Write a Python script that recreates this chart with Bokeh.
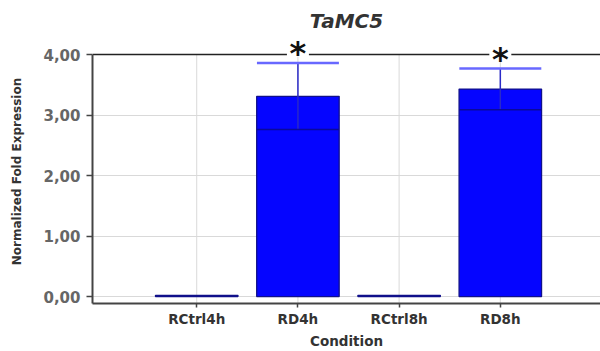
from bokeh.plotting import figure
from bokeh.models import Range1d, FixedTicker, Span, ColumnDataSource
from bokeh.core.properties import value
from bokeh.embed import file_html
from bokeh.resources import INLINE

# Normalized fold expression per condition (mean and error)
conditions = ["RCtrl4h", "RD4h", "RCtrl8h", "RD8h"]
expression = [0.02, 3.31, 0.02, 3.43]
error = [0.0, 0.55, 0.0, 0.34]
significant = [False, True, False, True]

y_ticks = [0, 1, 2, 3, 4]
y_tick_labels = ["0,00", "1,00", "2,00", "3,00", "4,00"]
y_min, y_max = -0.115, 4.0

FONT = "DejaVu Sans"
GRID = "#d9d9d9"
xs = list(range(1, len(conditions) + 1))

# frame reaches a little above the axis maximum so the stars are not clipped
p = figure(width=600, height=351, output_backend="svg", toolbar_location=None,
           x_range=Range1d(-0.03, 4.99), y_range=Range1d(y_min, 4.25),
           min_border_left=92, min_border_right=0, min_border_top=39,
           min_border_bottom=48)
p.outline_line_color = None
p.background_fill_color = "white"
p.border_fill_color = "white"

# title
p.title.text = "TaMC5"
p.title.align = "center"
p.title.text_font = FONT
p.title.text_font_style = "bold italic"
p.title.text_font_size = "20px"
p.title.text_color = "#333333"
p.title.standoff = 13

# grid: horizontal lines at the y ticks, vertical lines at each condition
p.ygrid.ticker = FixedTicker(ticks=y_ticks)
p.ygrid.grid_line_color = GRID
p.ygrid.grid_line_width = 1
p.xgrid.grid_line_color = None
p.segment(x0=xs, y0=[y_min] * len(xs), x1=xs, y1=[y_max] * len(xs),
          line_color=GRID, line_width=1, level="underlay")

# top frame line at the axis maximum
top_line = Span(location=y_max, dimension="width", line_color="#222222",
                line_width=1.5, level="underlay")
p.add_layout(top_line)

# bars
src = ColumnDataSource(dict(x=xs, top=expression))
p.vbar(x="x", top="top", bottom=0, width=0.815, source=src,
       fill_color="#0505ff", line_color="#10108a", line_width=1.3)

# error bars
ex = [x for x, e in zip(xs, error) if e > 0]
lo = [m - e for m, e in zip(expression, error) if e > 0]
hi = [m + e for m, e in zip(expression, error) if e > 0]
p.segment(x0=ex, y0=lo, x1=ex, y1=hi, line_color="#2a2ac8", line_width=1.5)
p.segment(x0=[x - 0.405 for x in ex], y0=hi, x1=[x + 0.405 for x in ex], y1=hi,
          line_color="#6868ff", line_width=2.5)
p.segment(x0=[x - 0.405 for x in ex], y0=lo, x1=[x + 0.405 for x in ex], y1=lo,
          line_color="#0a0a9a", line_width=1.5)

# significance stars
sx = [x for x, s in zip(xs, significant) if s]
sy = [m + e + 0.21 for m, e, s in zip(expression, error, significant) if s]
p.rect(x=sx, y=sy, width=22, height=12, width_units="screen", height_units="screen",
       fill_color="white", line_color=None)
p.text(x=sx, y=sy, text=["*"] * len(sx), text_align="center",
       text_baseline="alphabetic", y_offset=3,
       text_font=value(FONT), text_font_style="bold", text_font_size="32px",
       text_color="#111111")

# axes
p.xaxis.ticker = FixedTicker(ticks=xs)
p.xaxis.major_label_overrides = {x: c for x, c in zip(xs, conditions)}
p.xaxis.axis_label = "Condition"
p.yaxis.ticker = FixedTicker(ticks=y_ticks)
p.yaxis.major_label_overrides = {t: l for t, l in zip(y_ticks, y_tick_labels)}
p.yaxis.axis_label = "Normalized Fold Expression"
p.yaxis.bounds = (y_min, y_max)

for ax in (p.xaxis[0], p.yaxis[0]):
    ax.axis_line_color = "#444444"
    ax.axis_line_width = 2
    ax.major_tick_line_color = "#444444"
    ax.major_tick_line_width = 1.5
    ax.major_tick_in = 0
    ax.minor_tick_line_color = None
    ax.axis_label_text_font = FONT
    ax.axis_label_text_font_style = "bold"
    ax.major_label_text_font = FONT
    ax.major_label_text_font_style = "bold"

p.yaxis.major_tick_out = 6
p.yaxis.major_label_standoff = 6
p.yaxis.major_label_text_font_size = "15px"
p.yaxis.major_label_text_color = "#666666"
p.yaxis.axis_label_text_font_size = "12px"
p.yaxis.axis_label_text_color = "#333333"
p.yaxis.axis_label_standoff = 16

p.xaxis.major_tick_out = 4
p.xaxis.major_label_standoff = 3
p.xaxis.major_label_text_font_size = "13.5px"
p.xaxis.major_label_text_color = "#333333"
p.xaxis.axis_label_text_font_size = "13.5px"
p.xaxis.axis_label_text_color = "#333333"
p.xaxis.axis_label_standoff = 3

open("out.html", "w").write(file_html(p, INLINE))
